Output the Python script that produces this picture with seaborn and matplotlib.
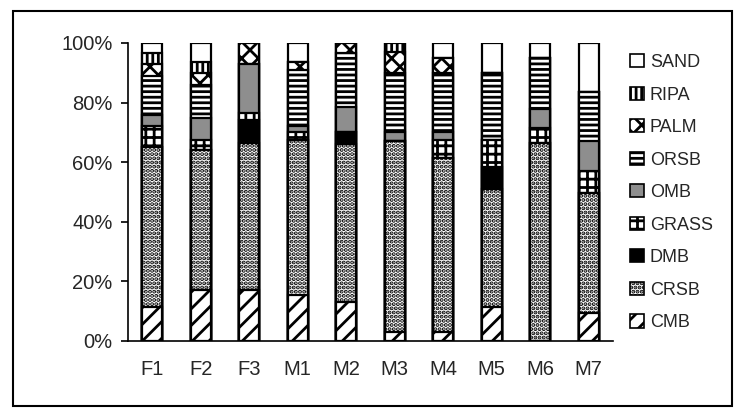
import numpy as np
import seaborn as sns
import matplotlib.pyplot as plt
import matplotlib.ticker as mticker
from matplotlib.patches import Patch, Rectangle

# Data (percent of each class per site)
sites = ['F1', 'F2', 'F3', 'M1', 'M2', 'M3', 'M4', 'M5', 'M6', 'M7']
CMB = [11.5, 17, 17, 15.5, 13, 3, 3, 11.5, 0, 9.5]
CRSB = [53.5, 47, 49.5, 52, 53, 64, 58.5, 39.5, 66.5, 40]
DMB = [0, 0, 7.5, 0, 4, 0, 0, 7.5, 0, 0]
GRASS = [7, 3.5, 2.5, 2.5, 0, 0, 6, 9, 5, 7.5]
OMB = [4, 7.5, 16.5, 2, 8.5, 3, 2.5, 0, 6.5, 10]
ORSB = [13, 11, 0, 19, 18, 20, 20, 22.5, 17, 16.5]
PALM = [4, 4, 7, 2.5, 3.5, 7, 5, 0, 0, 0]
RIPA = [3.5, 3.5, 0, 0, 0, 3, 0, 0, 0, 0]
SAND = [3.5, 6.5, 0, 6.5, 0, 0, 5, 10, 5, 16.5]

layers = ['CMB', 'CRSB', 'DMB', 'GRASS', 'OMB', 'ORSB', 'PALM', 'RIPA', 'SAND']
values = [CMB, CRSB, DMB, GRASS, OMB, ORSB, PALM, RIPA, SAND]

# fill colour and hatch per class
styles = {
    'CMB': ('white', '//'),
    'CRSB': ('white', '....'),
    'DMB': ('black', ''),
    'GRASS': ('white', '++'),
    'OMB': ('#8e8e8e', ''),
    'ORSB': ('white', '---'),
    'PALM': ('white', 'xx'),
    'RIPA': ('white', '|||'),
    'SAND': ('white', ''),
}

sns.set_style('white')
plt.rcParams['font.family'] = ['Liberation Sans', 'DejaVu Sans']
plt.rcParams['hatch.linewidth'] = 2.0
plt.rcParams['hatch.color'] = 'black'

fig = plt.figure(figsize=(7.36, 4.08), dpi=100)
ax = fig.add_axes([128 / 736, 67 / 408, 485 / 736, 298 / 408])

# stacked bars: draw cumulative totals from the top layer down
cum = np.cumsum(np.array(values), axis=0)
for i in range(len(layers) - 1, -1, -1):
    fc, h = styles[layers[i]]
    sns.barplot(x=sites, y=cum[i], ax=ax, color=fc, saturation=1,
                width=0.41, edgecolor='black', linewidth=1.6,
                hatch=h, errorbar=None)

ax.set_ylim(0, 100)
ax.set_xlim(-0.5, len(sites) - 0.5)
ax.set_yticks([0, 20, 40, 60, 80, 100])
ax.yaxis.set_major_formatter(mticker.PercentFormatter(100, decimals=0))
ax.set_xticks(np.arange(len(sites)))
ax.set_xticks(np.arange(len(sites) + 1) - 0.5, minor=True)
ax.tick_params(axis='x', which='major', length=0, labelsize=14.5, pad=14)
ax.tick_params(axis='x', which='minor', length=5, width=1.2, direction='out', color='black')
ax.tick_params(axis='y', length=5, width=1.2, direction='out', labelsize=14.5, pad=6, color='black', left=True)
ax.set_xlabel('')
ax.set_ylabel('')
sns.despine(ax=ax)
for s in ['left', 'bottom']:
    ax.spines[s].set_color('black')
    ax.spines[s].set_linewidth(1.2)

handles = [Patch(facecolor=styles[n][0], hatch=styles[n][1], edgecolor='black',
                 linewidth=1.2, label=n) for n in layers[::-1]]
ax.legend(handles=handles, loc='upper left', bbox_to_anchor=(630 / 736, 354 / 408),
          bbox_transform=fig.transFigure, frameon=False, fontsize=13,
          handlelength=0.75, handleheight=0.75, handletextpad=0.35,
          labelspacing=0.86, borderpad=0, borderaxespad=0)

# outer frame
fig.add_artist(Rectangle((13 / 736, 2 / 408), 719 / 736, 395 / 408,
                         transform=fig.transFigure, fill=False,
                         edgecolor='black', linewidth=1.5))

fig.savefig('out.png', dpi=100)
